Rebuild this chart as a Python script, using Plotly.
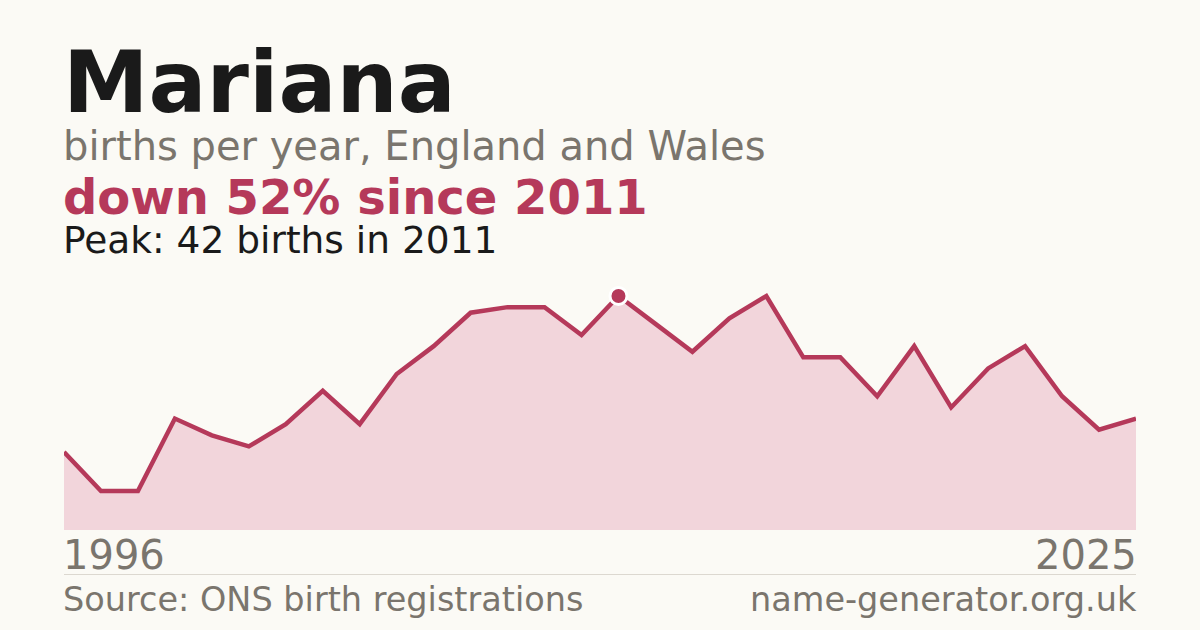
import plotly.graph_objects as go

# births per year for "Mariana", England and Wales
years = list(range(1996, 2026))
births = [14, 7, 7, 20, 17, 15, 19, 25, 19, 28,
          33, 39, 40, 40, 35, 42, 37, 32, 38, 42,
          31, 31, 24, 33, 22, 29, 33, 24, 18, 20]

peak_year = 2011
peak_val = 42

BG = "#fbfaf5"
ACCENT = "#b5395a"
FILL = "#f2d5db"
GREY = "#7a756d"
INK = "#1a1a1a"
FONT = "DejaVu Sans"

# plot area in pixels: x 64..1136, y 280..530
TOP, BOT = 280, 530


def py(p):
    # pixel row -> paper y
    return (BOT - p) / (BOT - TOP)


fig = go.Figure()
fig.add_trace(go.Scatter(x=years, y=births, mode="lines", fill="tozeroy",
                         fillcolor=FILL, line=dict(color=ACCENT, width=4.5),
                         hoverinfo="skip", cliponaxis=False))
fig.add_trace(go.Scatter(x=[peak_year], y=[peak_val], mode="markers",
                         marker=dict(size=17, color=ACCENT, line=dict(color="white", width=3)),
                         hoverinfo="skip", cliponaxis=False))

ann = [
    dict(text="<b>Mariana</b>", x=0, y=py(82), size=86, color=INK),
    dict(text="births per year, England and Wales", x=0, y=py(146), size=40, color=GREY),
    dict(text="<b>down 52% since 2011</b>", x=0, y=py(197), size=48, color=ACCENT),
    dict(text="Peak: 42 births in 2011", x=0, y=py(240), size=37.5, color=INK),
    dict(text="Source: ONS birth registrations", x=0, y=py(599), size=33.5, color=GREY),
]
for a in ann:
    fig.add_annotation(text=a["text"], x=a["x"], y=a["y"], xref="paper", yref="paper",
                       xanchor="left", yanchor="middle", showarrow=False, xshift=-3,
                       font=dict(family=FONT, size=a["size"], color=a["color"]))
fig.add_annotation(text="name-generator.org.uk", x=1, y=py(599), xref="paper", yref="paper",
                   xanchor="right", yanchor="middle", showarrow=False, xshift=3,
                   font=dict(family=FONT, size=33.5, color=GREY))
fig.add_annotation(text=str(years[0]), x=years[0], y=py(555), xref="x", yref="paper",
                   xanchor="left", yanchor="middle", showarrow=False, xshift=-3,
                   font=dict(family=FONT, size=40, color=GREY))
fig.add_annotation(text=str(years[-1]), x=years[-1], y=py(555), xref="x", yref="paper",
                   xanchor="right", yanchor="middle", showarrow=False, xshift=3,
                   font=dict(family=FONT, size=40, color=GREY))

fig.add_shape(type="line", xref="paper", yref="paper", x0=0, x1=1, y0=py(574.5), y1=py(574.5),
              line=dict(color="#dcd8d0", width=1))

fig.update_layout(
    width=1200, height=630,
    paper_bgcolor=BG, plot_bgcolor=BG,
    margin=dict(l=64, r=64, t=TOP, b=630 - BOT),
    showlegend=False,
    xaxis=dict(range=[years[0], years[-1]], visible=False, fixedrange=True),
    yaxis=dict(range=[0, peak_val * (BOT - TOP) / 234], visible=False, fixedrange=True),
)

fig.write_html("out.html", config={"displayModeBar": False},
               post_script="document.body.style.margin='0';")
